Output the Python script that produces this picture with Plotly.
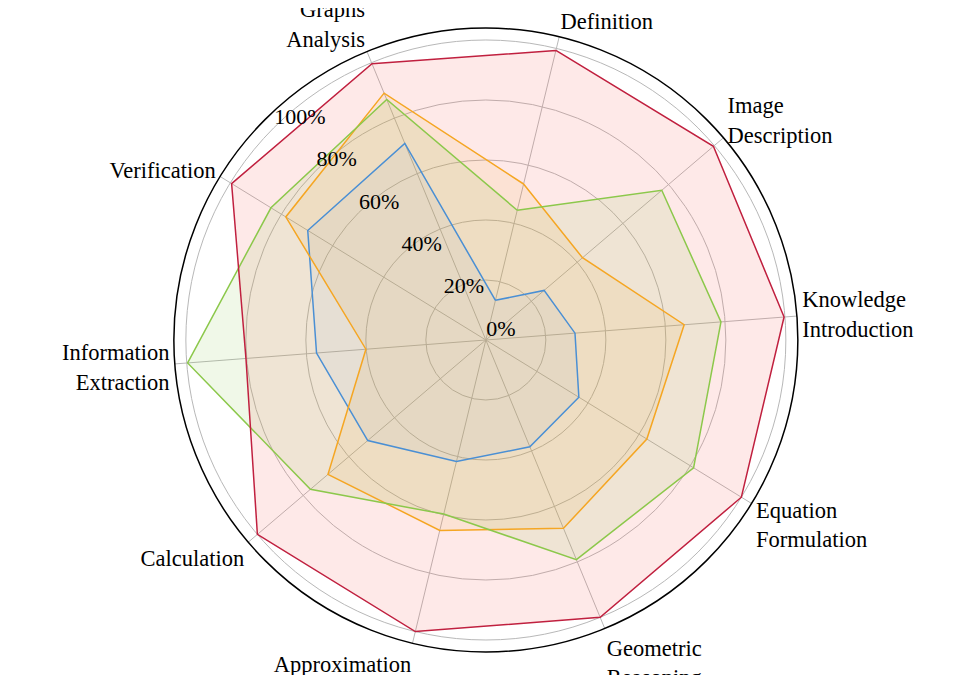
import plotly.graph_objects as go

categories = ["Definition", "Image<br>Description", "Knowledge<br>Introduction",
              "Equation<br>Formulation", "Geometric<br>Reasoning", "Approximation",
              "Calculation", "Information<br>Extraction", "Verification", "Graphs<br>Analysis"]

series_red = [99.3, 99.6, 99.7, 100.0, 100.0, 100.0, 100.0, 80.2, 99.5, 99.6]
series_green = [44.5, 77.0, 78.6, 81.3, 79.2, 59.7, 76.8, 99.7, 84.1, 86.7]
series_orange = [53.5, 42.3, 66.3, 63.0, 67.9, 65.3, 69.1, 40.1, 78.3, 89.0]
series_blue = [13.6, 25.5, 29.8, 36.4, 38.5, 41.7, 51.7, 56.6, 69.7, 70.9]

tick_vals = [0, 20, 40, 60, 80, 100]
tick_text = ["0%", "20%", "40%", "60%", "80%", "100%"]

# (name, values, line colour, fill colour) -- fills drawn bottom to top in this order
fill_order = [
    ("Red", series_red, "#c0203f", "rgba(245,110,100,0.15)"),
    ("Green", series_green, "#8cc84b", "rgba(140,200,80,0.13)"),
    ("Orange", series_orange, "#f5a623", "rgba(240,170,40,0.10)"),
    ("Blue", series_blue, "#4a8fd4", "rgba(74,144,217,0.05)"),
]

fig = go.Figure()
for name, vals, line_c, fill_c in fill_order:
    fig.add_trace(go.Scatterpolar(
        r=vals + vals[:1],
        theta=categories + categories[:1],
        mode="lines",
        name=name + " area",
        line=dict(color="rgba(0,0,0,0)", width=0),
        fill="toself",
        fillcolor=fill_c,
        showlegend=False,
        hoverinfo="skip",
    ))
for name, vals, line_c, fill_c in reversed(fill_order):
    fig.add_trace(go.Scatterpolar(
        r=vals + vals[:1],
        theta=categories + categories[:1],
        mode="lines",
        name=name,
        line=dict(color=line_c, width=1.5),
        showlegend=False,
    ))

# carrier trace for the overlaid polar that only shows the percentage labels
fig.add_trace(go.Scatterpolar(
    r=[0], theta=categories[:1], subplot="polar2", mode="markers",
    marker=dict(opacity=0), showlegend=False, hoverinfo="skip",
))

font_family = "Liberation Serif, Times New Roman, serif"

fig.update_layout(
    width=979, height=675,
    margin=dict(l=89, r=120, t=13, b=31),
    paper_bgcolor="white",
    font=dict(family=font_family, size=22.5, color="black"),
    polar=dict(
        bgcolor="white",
        domain=dict(x=[0.01, 1], y=[0, 0.98891]),
        radialaxis=dict(
            range=[0, 104],
            tickvals=tick_vals,
            ticktext=tick_text,
            angle=135,
            showticklabels=False,
            showline=False,
            ticks="",
            gridcolor="#b8b8b8",
            gridwidth=1,
        ),
        angularaxis=dict(
            direction="clockwise",
            rotation=76.4,
            showline=True,
            linecolor="black",
            linewidth=1.5,
            gridcolor="#b8b8b8",
            gridwidth=1,
            ticks="",
            tickfont=dict(size=22.5),
        ),
    ),
    polar2=dict(
        bgcolor="rgba(0,0,0,0)",
        domain=dict(x=[0, 0.99], y=[0.01109, 1]),
        radialaxis=dict(
            range=[0, 104],
            tickvals=tick_vals,
            ticktext=tick_text,
            angle=135,
            tickangle=135,
            showgrid=False,
            showline=False,
            ticks="",
            tickfont=dict(size=22),
        ),
        angularaxis=dict(
            direction="clockwise",
            rotation=76.4,
            showline=False,
            showgrid=False,
            showticklabels=False,
            ticks="",
        ),
    ),
)

fig.write_html("out.html")
